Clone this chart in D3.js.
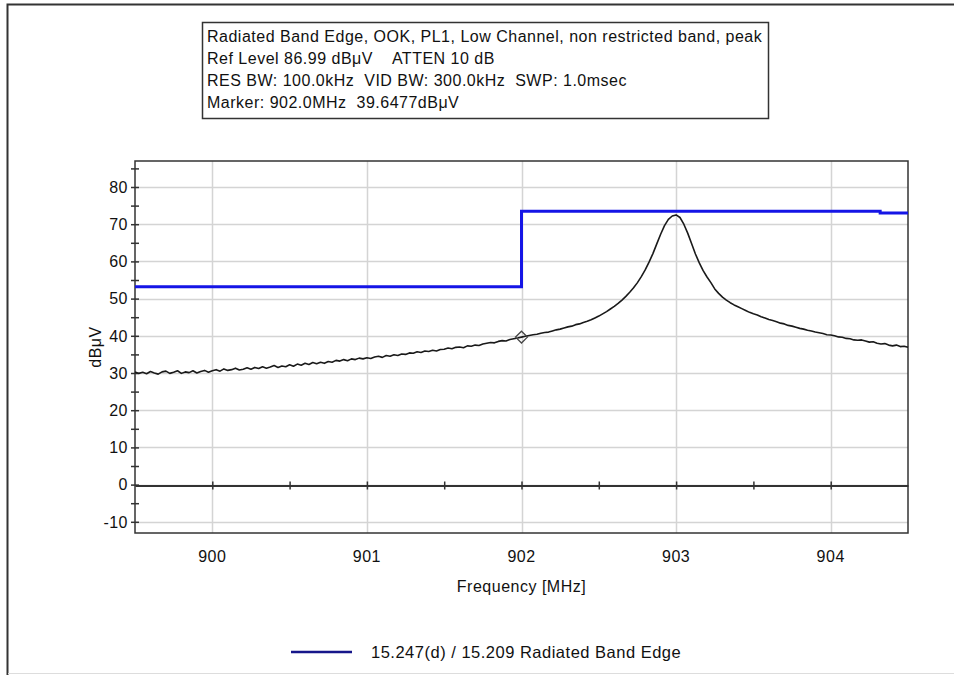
<!DOCTYPE html>
<html>
<head>
<meta charset="utf-8">
<script src="https://cdn.jsdelivr.net/npm/d3@7"></script>
<style>
  body { margin: 0; background: #fff; }
  svg { display: block; font-family: "Liberation Sans", Arial, sans-serif; letter-spacing: 0.5px; }
</style>
</head>
<body>
<div id="wrapper"></div>
<script>
/* spectrum plot: band edge trace + limit line */

// header box text
const headerLines = [
  "Radiated Band Edge, OOK, PL1, Low Channel, non restricted band, peak",
  "Ref Level 86.99 dB\u03bcV    ATTEN 10 dB",
  "RES BW: 100.0kHz  VID BW: 300.0kHz  SWP: 1.0msec",
  "Marker: 902.0MHz  39.6477dB\u03bcV"
];

const traceFreqs = [
  899.500, 899.525, 899.550, 899.575, 899.600, 899.625, 899.650, 899.675, 899.700, 899.725,
  899.750, 899.775, 899.800, 899.825, 899.850, 899.875, 899.900, 899.925, 899.950, 899.975,
  900.000, 900.025, 900.050, 900.075, 900.100, 900.125, 900.150, 900.175, 900.200, 900.225,
  900.250, 900.275, 900.300, 900.325, 900.350, 900.375, 900.400, 900.425, 900.450, 900.475,
  900.500, 900.525, 900.550, 900.575, 900.600, 900.625, 900.650, 900.675, 900.700, 900.725,
  900.750, 900.775, 900.800, 900.825, 900.850, 900.875, 900.900, 900.925, 900.950, 900.975,
  901.000, 901.025, 901.050, 901.075, 901.100, 901.125, 901.150, 901.175, 901.200, 901.225,
  901.250, 901.275, 901.300, 901.325, 901.350, 901.375, 901.400, 901.425, 901.450, 901.475,
  901.500, 901.525, 901.550, 901.575, 901.600, 901.625, 901.650, 901.675, 901.700, 901.725,
  901.750, 901.775, 901.800, 901.825, 901.850, 901.875, 901.900, 901.925, 901.950, 901.975,
  902.000, 902.025, 902.050, 902.075, 902.100, 902.125, 902.150, 902.175, 902.200, 902.225,
  902.250, 902.275, 902.300, 902.325, 902.350, 902.375, 902.400, 902.425, 902.450, 902.475,
  902.500, 902.525, 902.550, 902.575, 902.600, 902.625, 902.650, 902.675, 902.700, 902.725,
  902.750, 902.775, 902.800, 902.825, 902.850, 902.875, 902.900, 902.925, 902.950, 902.975,
  903.000, 903.025, 903.050, 903.075, 903.100, 903.125, 903.150, 903.175, 903.200, 903.225,
  903.250, 903.275, 903.300, 903.325, 903.350, 903.375, 903.400, 903.425, 903.450, 903.475,
  903.500, 903.525, 903.550, 903.575, 903.600, 903.625, 903.650, 903.675, 903.700, 903.725,
  903.750, 903.775, 903.800, 903.825, 903.850, 903.875, 903.900, 903.925, 903.950, 903.975,
  904.000, 904.025, 904.050, 904.075, 904.100, 904.125, 904.150, 904.175, 904.200, 904.225,
  904.250, 904.275, 904.300, 904.325, 904.350, 904.375, 904.400, 904.425, 904.450, 904.475,
  904.500
];
const traceLevels = [
  30.3, 29.9, 30.2, 29.8, 30.4, 30.0, 29.7, 30.3, 30.5, 29.9,
  30.2, 30.6, 29.9, 30.3, 30.1, 30.6, 30.0, 30.4, 30.7, 30.2,
  30.6, 30.9, 30.5, 31.1, 30.7, 30.9, 31.3, 30.8, 31.0, 31.4,
  31.0, 31.5, 31.2, 31.7, 31.3, 31.6, 32.0, 31.5, 31.9, 31.7,
  32.2, 31.8, 32.4, 32.1, 32.6, 32.3, 32.8, 32.5, 32.9, 32.6,
  33.1, 32.9, 33.4, 33.2, 33.6, 33.3, 33.8, 33.6, 34.0, 33.8,
  34.1, 33.9, 34.3, 34.5, 34.2, 34.7, 34.5, 34.9, 34.7, 35.1,
  35.0, 35.4, 35.3, 35.7, 35.5, 35.9, 35.8, 36.1, 35.9, 36.3,
  36.4, 36.7, 36.5, 36.9, 37.0, 36.8, 37.3, 37.2, 37.5, 37.4,
  37.8, 38.0, 38.2, 38.1, 38.5, 38.7, 38.6, 39.0, 39.2, 39.4,
  39.65, 39.9, 40.1, 40.3, 40.4, 40.7, 40.9, 41.0, 41.3, 41.6,
  41.8, 42.1, 42.4, 42.6, 43.0, 43.2, 43.6, 43.9, 44.3, 44.8,
  45.3, 45.9, 46.5, 47.2, 47.9, 48.7, 49.6, 50.6, 51.7, 52.9,
  54.3, 55.9, 57.7, 59.8, 62.1, 64.7, 67.3, 69.6, 71.3, 72.2,
  72.5, 71.8, 70.0, 67.6, 64.8, 62.0, 59.6, 57.5, 55.8, 54.3,
  52.6, 51.4, 50.4, 49.6, 48.9, 48.3, 47.8, 47.3, 46.8, 46.3,
  45.9, 45.6, 45.1, 44.8, 44.4, 44.1, 43.8, 43.4, 43.2, 42.8,
  42.6, 42.3, 42.0, 41.8, 41.5, 41.3, 41.0, 40.8, 40.6, 40.3,
  40.2, 40.0, 39.7, 39.6, 39.3, 39.2, 38.9, 38.8, 38.9, 38.6,
  38.3, 38.4, 38.0, 37.8, 37.9, 37.5, 37.3, 37.5, 37.1, 37.2,
  36.9
];

// limit line 15.247(d) / 15.209
const limitFreqs  = [899.5, 902.0, 902.0, 904.32, 904.32, 904.5];
const limitLevels = [53.2, 53.2, 73.5, 73.5, 73.0, 73.0];

// marker
const markerFreq = 902.0;
const markerLevel = 39.6477;

// axes
const freqDomain = [899.5, 904.5];
const levelDomain = [-13.01, 86.99];
const freqTicks = [900, 901, 902, 903, 904];
const freqMinorTicks = [900, 900.5, 901, 901.5, 902, 902.5, 903, 903.5, 904];
const levelTicks = [-10, 0, 10, 20, 30, 40, 50, 60, 70, 80];
const levelMinorTicks = [-10, -5, 0, 5, 10, 15, 20, 25, 30, 35, 40, 45, 50, 55, 60, 65, 70, 75, 80, 85];

const legendLabel = "15.247(d) / 15.209 Radiated Band Edge";

const fontSize = 16;

function drawChart() {
  const dimensions = {
    width: 954,
    height: 675,
    margin: { top: 161, right: 46, bottom: 142, left: 135 }
  };
  dimensions.boundedWidth = dimensions.width - dimensions.margin.left - dimensions.margin.right;
  dimensions.boundedHeight = dimensions.height - dimensions.margin.top - dimensions.margin.bottom;

  const svg = d3.select("#wrapper").append("svg")
    .attr("width", dimensions.width)
    .attr("height", dimensions.height);

  // outer frame (screenshot border)
  svg.append("path")
    .attr("d", "M7.5,675 V4.5 H954")
    .attr("fill", "none")
    .attr("stroke", "#333")
    .attr("stroke-width", 2);
  svg.append("line")
    .attr("x1", 8).attr("x2", 954).attr("y1", 673.5).attr("y2", 673.5)
    .attr("stroke", "#ddd");

  // header box
  const header = svg.append("g");
  header.append("rect")
    .attr("x", 202.5).attr("y", 22.5)
    .attr("width", 566).attr("height", 96)
    .attr("fill", "#fff")
    .attr("stroke", "#333")
    .attr("stroke-width", 1.5);
  header.selectAll("text")
    .data(headerLines)
    .join("text")
      .attr("x", 207)
      .attr("y", (d, i) => 42 + i * 22)
      .attr("font-size", fontSize)
      .attr("fill", "#111")
      .style("white-space", "pre")
      .text(d => d);

  const bounds = svg.append("g")
    .attr("transform", `translate(${dimensions.margin.left},${dimensions.margin.top})`);

  const xScale = d3.scaleLinear()
    .domain(freqDomain)
    .range([0, dimensions.boundedWidth]);
  const yScale = d3.scaleLinear()
    .domain(levelDomain)
    .range([dimensions.boundedHeight, 0]);

  // grid
  bounds.append("g")
    .selectAll("line")
    .data(levelTicks)
    .join("line")
      .attr("x1", 0).attr("x2", dimensions.boundedWidth)
      .attr("y1", d => Math.round(yScale(d)) + 0.5)
      .attr("y2", d => Math.round(yScale(d)) + 0.5)
      .attr("stroke", "#d4d4d4")
      .attr("stroke-width", 1.5);
  bounds.append("g")
    .selectAll("line")
    .data(freqTicks)
    .join("line")
      .attr("x1", d => Math.round(xScale(d)) + 0.5)
      .attr("x2", d => Math.round(xScale(d)) + 0.5)
      .attr("y1", 0).attr("y2", dimensions.boundedHeight)
      .attr("stroke", "#d4d4d4")
      .attr("stroke-width", 1.5);

  // x axis line at 0 dB with crossing ticks
  const zeroY = Math.round(yScale(0)) + 0.5;
  const xAxisGenerator = d3.axisBottom(xScale)
    .tickValues(freqMinorTicks)
    .tickSizeInner(4)
    .tickSizeOuter(0)
    .tickFormat("");
  const xAxis = bounds.append("g")
    .attr("transform", `translate(0,${zeroY})`)
    .call(xAxisGenerator);
  xAxis.select(".domain").attr("stroke", "#333").attr("stroke-width", 2);
  xAxis.selectAll(".tick line").attr("y1", -4).attr("stroke", "#333").attr("stroke-width", 1.5);

  // x tick labels sit below the plot
  bounds.append("g")
    .selectAll("text")
    .data(freqTicks)
    .join("text")
      .attr("x", d => xScale(d))
      .attr("y", dimensions.boundedHeight + 29)
      .attr("text-anchor", "middle")
      .attr("font-size", fontSize)
      .attr("fill", "#111")
      .text(d => d);

  // y axis with major + minor crossing ticks
  const yAxisGenerator = d3.axisLeft(yScale)
    .tickValues(levelMinorTicks)
    .tickSizeInner(4)
    .tickSizeOuter(0)
    .tickFormat("");
  const yAxis = bounds.append("g").call(yAxisGenerator);
  yAxis.select(".domain").remove();
  yAxis.selectAll(".tick line").attr("x2", 4).attr("x1", -4).attr("stroke", "#333").attr("stroke-width", 1.5);

  bounds.append("g")
    .selectAll("text")
    .data(levelTicks)
    .join("text")
      .attr("x", -7)
      .attr("y", d => yScale(d))
      .attr("dy", "0.36em")
      .attr("text-anchor", "end")
      .attr("font-size", fontSize)
      .attr("fill", "#111")
      .text(d => d);

  // plot frame
  bounds.append("rect")
    .attr("x", 0).attr("y", 0)
    .attr("width", dimensions.boundedWidth)
    .attr("height", dimensions.boundedHeight)
    .attr("fill", "none")
    .attr("stroke", "#333")
    .attr("stroke-width", 1.5);

  // limit line
  const limitData = limitFreqs.map((f, i) => ({ f, v: limitLevels[i] }));
  const lineGen = d3.line()
    .x(d => xScale(d.f))
    .y(d => yScale(d.v));
  bounds.append("path")
    .datum(limitData)
    .attr("d", lineGen)
    .attr("fill", "none")
    .attr("stroke", "#1515e6")
    .attr("stroke-width", 3);

  // trace
  const traceData = traceFreqs.map((f, i) => ({ f, v: traceLevels[i] }));
  bounds.append("path")
    .datum(traceData)
    .attr("d", lineGen)
    .attr("fill", "none")
    .attr("stroke", "#1a1a1a")
    .attr("stroke-width", 1.6)
    .attr("stroke-linejoin", "round");

  // marker diamond
  bounds.append("path")
    .attr("d", d3.symbol(d3.symbolDiamond2, 90)())
    .attr("transform", `translate(${xScale(markerFreq)},${yScale(markerLevel)})`)
    .attr("fill", "none")
    .attr("stroke", "#444")
    .attr("stroke-width", 1.3);

  // axis titles
  svg.append("text")
    .attr("x", dimensions.margin.left + xScale(902))
    .attr("y", 592)
    .attr("text-anchor", "middle")
    .attr("font-size", fontSize)
    .attr("fill", "#111")
    .text("Frequency [MHz]");
  svg.append("text")
    .attr("transform", `translate(101,${dimensions.margin.top + dimensions.boundedHeight / 2}) rotate(-90)`)
    .attr("text-anchor", "middle")
    .attr("font-size", fontSize)
    .attr("fill", "#111")
    .text("dB\u03bcV");

  // legend
  const legend = svg.append("g");
  legend.append("line")
    .attr("x1", 291).attr("x2", 352)
    .attr("y1", 652).attr("y2", 652)
    .attr("stroke", "#16168a")
    .attr("stroke-width", 2.5);
  legend.append("text")
    .attr("x", 371)
    .attr("y", 658)
    .attr("font-size", 16.5)
    .attr("fill", "#111")
    .text(legendLabel);
}
drawChart();
</script>
</body>
</html>
